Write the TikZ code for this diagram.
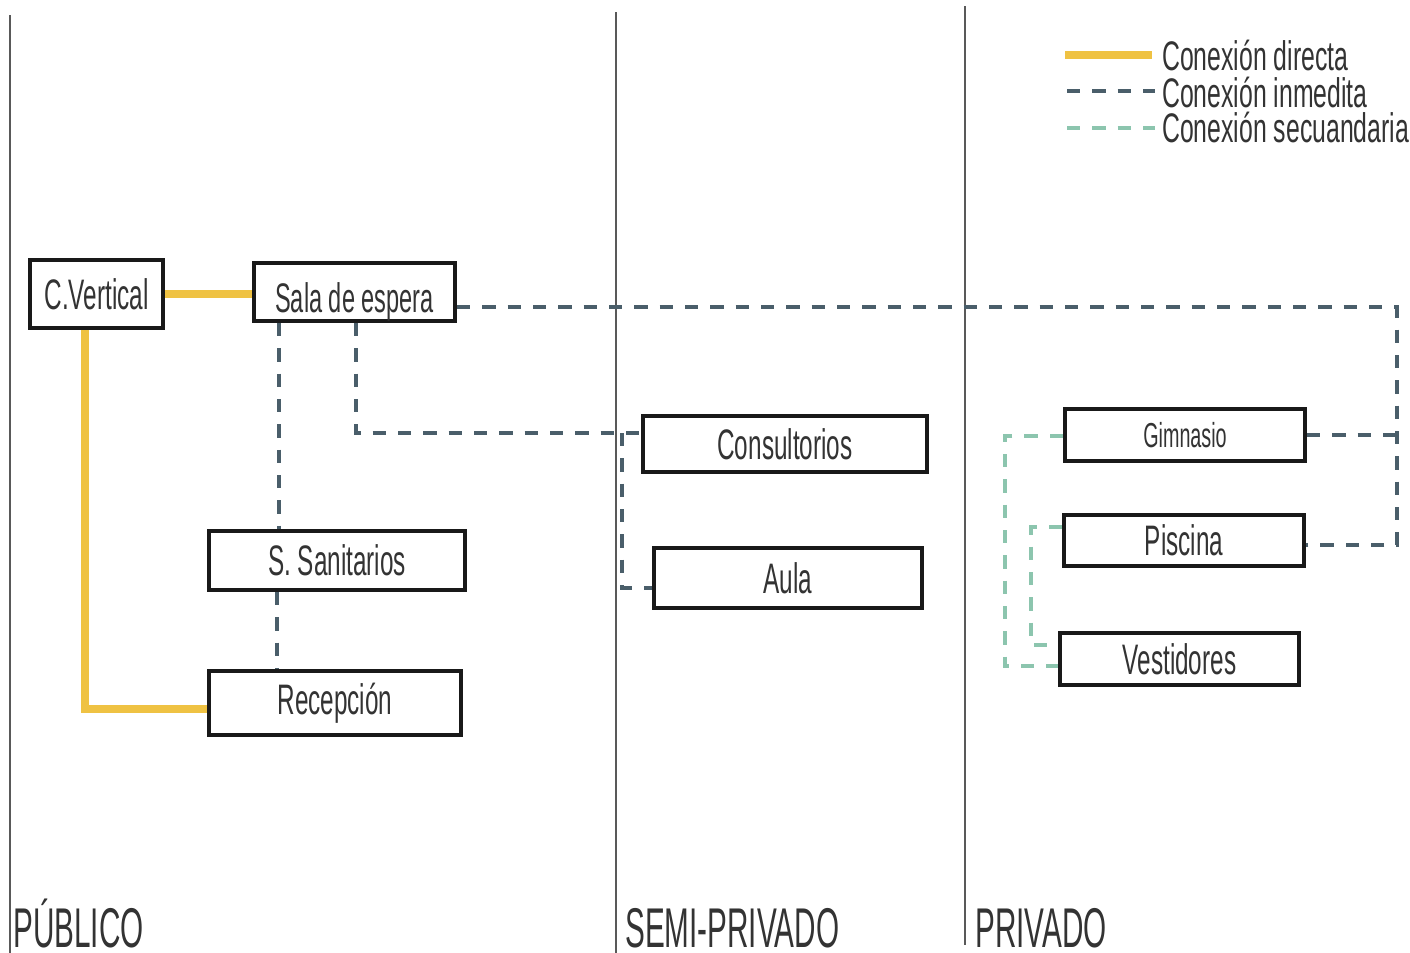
\documentclass[tikz,border=0pt]{standalone}
\usepackage{fontspec}
\newfontfamily\condfont{Liberation Sans}[FakeStretch=0.57]
\newfontfamily\zonafont{Liberation Sans}[FakeStretch=0.53]
\newfontfamily\leyfont{Liberation Sans}[FakeStretch=0.6]
\definecolor{amarillo}{HTML}{EFC243}
\definecolor{pizarra}{HTML}{4A5E6A}
\definecolor{menta}{HTML}{8CC5AE}
\definecolor{tinta}{HTML}{333333}
\tikzset{
  espacio/.style={draw=black!90, line width=3pt, fill=white, inner sep=0pt, text=tinta},
  directa/.style={amarillo, line width=6pt},
  inmedita/.style={pizarra, line width=3pt, dash pattern=on 10pt off 9pt},
  secundaria/.style={menta, line width=3pt, dash pattern=on 10pt off 9pt},
  limite/.style={black!65, line width=2pt},
  zona/.style={text=tinta, inner sep=0pt, anchor=base west, font=\zonafont\fontsize{42}{46}\selectfont},
  leyenda/.style={text=tinta, inner sep=0pt, anchor=base west, font=\leyfont\fontsize{31}{34}\selectfont}
}
\begin{document}
\begin{tikzpicture}[x=0.75pt, y=-0.75pt, font=\condfont\fontsize{32}{36}\selectfont]
  \useasboundingbox (0,0) rectangle (1410,953);

  % zone limits
  \draw[limite] (10,15) -- (10,953);
  \draw[limite] (616,12) -- (616,953);
  \draw[limite, line width=1.5pt] (965,6) -- (965,945);
  \node[zona] (publico) at (13,947) {PÚBLICO};
  \node[zona] (semi) at (625,947) {SEMI-PRIVADO};
  \node[zona] (privado) at (975,947) {PRIVADO};

  % legend
  \coordinate (lda) at (1065,55);  \coordinate (ldb) at (1152,55);
  \coordinate (lia) at (1067,91);  \coordinate (lib) at (1155,91);
  \coordinate (lsa) at (1067,128); \coordinate (lsb) at (1155,128);
  \draw[directa] (lda) -- (ldb);
  \draw[inmedita] (lia) -- (lib);
  \draw[secundaria] (lsa) -- (lsb);
  \node[leyenda] (ldir) at (1162,70) {Conexión directa};
  \node[leyenda] (linm) at (1162,107) {Conexión inmedita};
  \node[leyenda] (lsec) at (1162,142) {Conexión secuandaria};

  % corner points of the connectors
  \coordinate (cvdown) at (85,709);
  \coordinate (salasan) at (279,0);
  \coordinate (sanrec) at (277,0);
  \coordinate (salacons) at (356,433);
  \coordinate (consaula) at (622,588);
  \coordinate (norte) at (1397,307);
  \coordinate (este) at (1397,545);
  \coordinate (gimves) at (1005,666);
  \coordinate (pisves) at (1031,645);

  % spaces
  \node[espacio, minimum width=99.75pt, minimum height=51pt] (cv) at (96.5,294) {C.Vertical};
  \node[espacio, minimum width=150.75pt, minimum height=43.5pt, text height=31pt, text depth=0pt, font=\condfont\fontsize{31}{34}\selectfont] (sala) at (354.5,292) {Sala de espera};
  \node[espacio, minimum width=192pt, minimum height=44.25pt] (san) at (337,560.5) {S. Sanitarios};
  \node[espacio, minimum width=189pt, minimum height=48pt] (rec) at (335,703) {Recepción};
  \node[espacio, minimum width=213pt, minimum height=42pt] (cons) at (785,444) {Consultorios};
  \node[espacio, minimum width=201pt, minimum height=45pt] (aula) at (788,578) {Aula};
  \node[espacio, minimum width=180pt, minimum height=39pt, font=\condfont\fontsize{26}{29}\selectfont] (gim) at (1185,435) {Gimnasio};
  \node[espacio, minimum width=180pt, minimum height=38.25pt] (pis) at (1184,540.5) {Piscina};
  \node[espacio, minimum width=179.25pt, minimum height=39pt] (ves) at (1179.5,659) {Vestidores};

  % direct connections
  \draw[directa] (cv.east) -- (cv.east -| sala.west);
  \draw[directa] (cv.south -| cvdown) -- (cvdown) -- (cvdown -| rec.west);

  % immediate connections
  \draw[inmedita] (sala.east |- norte) -- (norte) -- (este) -- (este -| pis.east);
  \draw[inmedita] (gim.east) -- (gim.east -| norte);
  \draw[inmedita] (sala.south -| salasan) -- (san.north -| salasan);
  \draw[inmedita] (san.south -| sanrec) -- (rec.north -| sanrec);
  \draw[inmedita] (sala.south -| salacons) -- (salacons) -- (salacons -| cons.west);
  \draw[inmedita] (salacons -| consaula) -- (consaula) -- (consaula -| aula.west);

  % secondary connections
  \draw[secundaria] (gim.west |- 0,436) -- (gimves |- 0,436) -- (gimves) -- (gimves -| ves.west);
  \draw[secundaria] (pis.west |- 0,527) -- (pisves |- 0,527) -- (pisves) -- (pisves -| ves.west);
\end{tikzpicture}
\end{document}
